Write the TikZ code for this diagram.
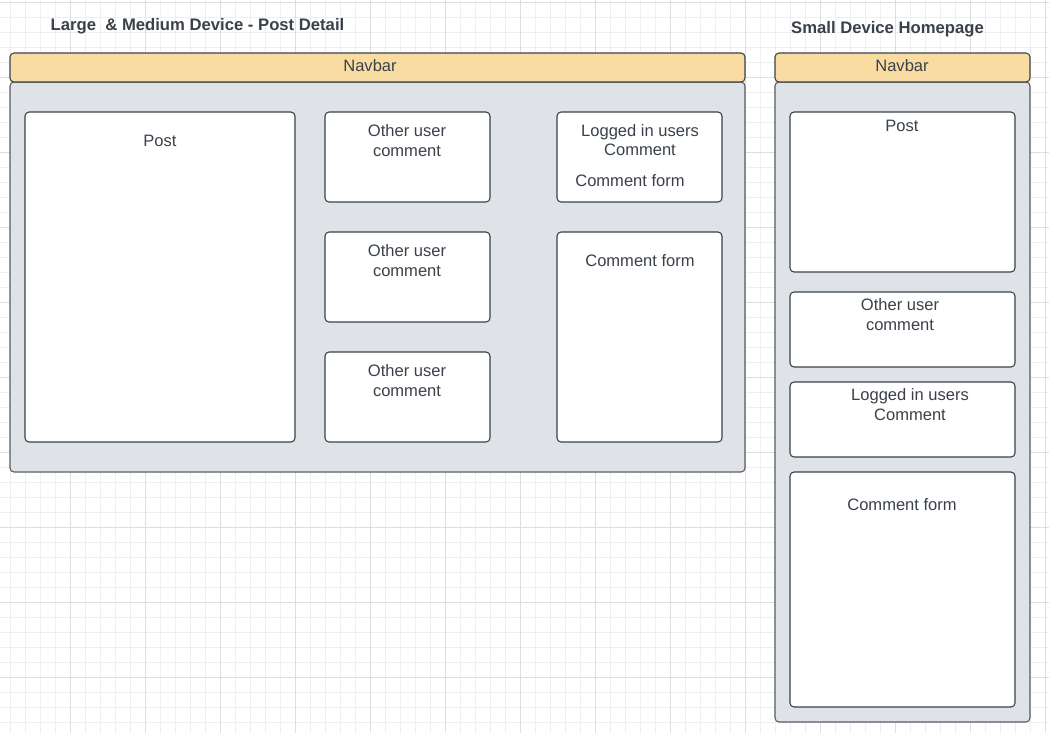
\documentclass[tikz,border=0pt]{standalone}
\usepackage{fontspec}
\setmainfont{Liberation Sans}
\usepackage{tikz}
\usetikzlibrary{positioning}
\definecolor{ink}{HTML}{3A414A}
\definecolor{navfill}{HTML}{F8DCA2}
\definecolor{panelfill}{HTML}{DFE2E7}
\definecolor{panelline}{HTML}{565C66}
\definecolor{minorgrid}{HTML}{EFEFEF}
\definecolor{majorgrid}{HTML}{DEDEDE}

\begin{document}
\begin{tikzpicture}[x=0.75pt,y=-0.75pt,inner sep=0pt,outer sep=0pt,text=ink,font=\fontsize{12.4}{14.6}\selectfont]
\tikzstyle{thin}=[draw=minorgrid,line width=1.3pt]
\tikzstyle{thick}=[draw=majorgrid,line width=1.4pt]
\tikzstyle{navbar}=[rectangle,draw=ink,fill=navfill,rounded corners=3pt,anchor=north west,line width=0.8pt]
\tikzstyle{panel}=[rectangle,draw=panelline,fill=panelfill,rounded corners=3pt,anchor=north west,line width=0.8pt]
\tikzstyle{card}=[rectangle,draw=ink,fill=white,rounded corners=3pt,anchor=north west,line width=0.8pt]
\tikzstyle{caption}=[anchor=base,align=center]
\tikzstyle{heading}=[anchor=base,font=\bfseries\fontsize{12.5}{14}\selectfont]
\useasboundingbox[fill=white] (0,0) rectangle (1049,733);
% grid paper
\foreach \x in {10.5,25.5,...,1046} \draw[thin] (\x,0) -- (\x,733);
\foreach \y in {2.5,17.5,...,733} \draw[thin] (0,\y) -- (1049,\y);
\foreach \x in {70.5,145.5,...,1046} \draw[thick] (\x,0) -- (\x,733);
\foreach \y in {2.5,77.5,...,733} \draw[thick] (0,\y) -- (1049,\y);
% large & medium device
\node[heading] (bigtitle) at (197.5,30.5) {Large\ \ \& Medium Device - Post Detail};
\node[panel,minimum width=735*0.75pt,minimum height=390*0.75pt] (bigbody) at (10,82) {};
\node[navbar,minimum width=735*0.75pt,minimum height=29*0.75pt] (bignav) at (10,53) {};
\node[caption] (bignavtext) at (370,71) {Navbar};
\node[card,minimum width=270*0.75pt,minimum height=330*0.75pt] (post) at (25,112) {};
\node[caption] (posttext) at (160,146) {Post};
\node[card,minimum width=165*0.75pt,minimum height=90*0.75pt] (otherA) at (325,112) {};
\node[card,minimum width=165*0.75pt,minimum height=90*0.75pt] (otherB) at (325,232) {};
\node[card,minimum width=165*0.75pt,minimum height=90*0.75pt] (otherC) at (325,352) {};
\node[caption] (otherAtext) at (407,156) {Other user\\comment};
\node[caption] (otherBtext) at (407,276) {Other user\\comment};
\node[caption] (otherCtext) at (407,396) {Other user\\comment};
\node[card,minimum width=165*0.75pt,minimum height=90*0.75pt] (logged) at (557,112) {};
\node[caption] (loggedtext) at (640,155.5) {Logged in users\\Comment};
\node[caption] (loggedform) at (630,186) {Comment form};
\node[card,minimum width=165*0.75pt,minimum height=210*0.75pt] (form) at (557,232) {};
\node[caption] (formtext) at (640,266) {Comment form};
% small device
\node[heading] (smalltitle) at (887.5,33) {Small Device Homepage};
\node[panel,minimum width=255*0.75pt,minimum height=640*0.75pt] (smallbody) at (775,82) {};
\node[navbar,minimum width=255*0.75pt,minimum height=29*0.75pt] (smallnav) at (775,53) {};
\node[caption] (smallnavtext) at (902,71) {Navbar};
\node[card,minimum width=225*0.75pt,minimum height=160*0.75pt] (spost) at (790,112) {};
\node[caption] (sposttext) at (902,131) {Post};
\node[card,minimum width=225*0.75pt,minimum height=75*0.75pt] (sother) at (790,292) {};
\node[caption] (sothertext) at (900,330) {Other user\\comment};
\node[card,minimum width=225*0.75pt,minimum height=75*0.75pt] (slogged) at (790,382) {};
\node[caption] (sloggedtext) at (910,420) {Logged in users\\Comment};
\node[card,minimum width=225*0.75pt,minimum height=235*0.75pt] (sform) at (790,472) {};
\node[caption] (sformtext) at (902,510) {Comment form};
\end{tikzpicture}
\end{document}
